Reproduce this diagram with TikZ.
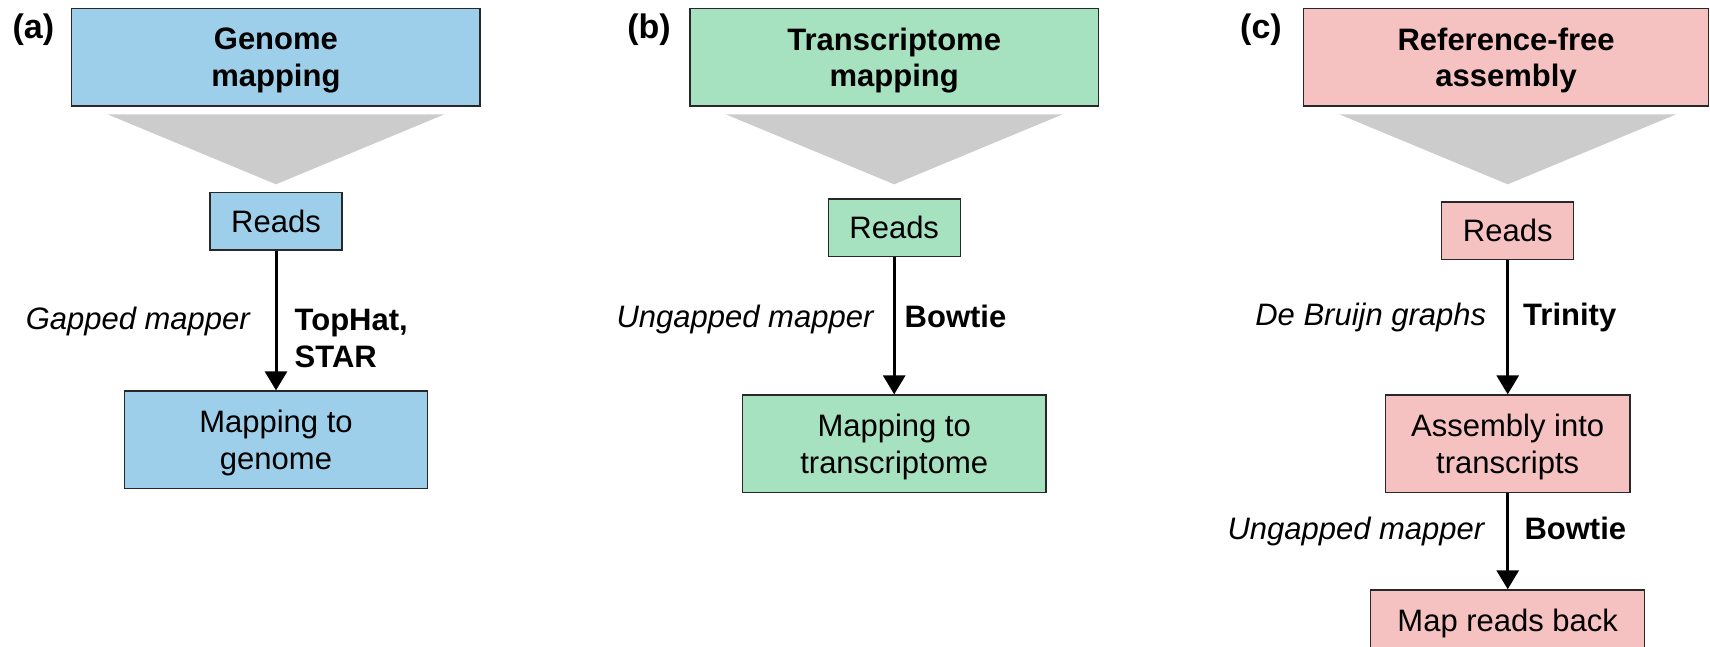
\documentclass[tikz,border=0pt]{standalone}
\usepackage{fontspec}
\setmainfont{Liberation Sans}
\usetikzlibrary{arrows.meta}

\definecolor{genomeblue}{RGB}{158,207,234}
\definecolor{transgreen}{RGB}{166,225,192}
\definecolor{assemblypink}{RGB}{246,193,193}
\definecolor{funnelgray}{RGB}{204,204,204}
\definecolor{edgecol}{RGB}{40,40,40}

\newcommand\txtfont{\fontsize{31}{36.7}\selectfont}
\newcommand\panelfont{\fontsize{34}{40}\selectfont}

\tikzset{
  box/.style={draw=edgecol, line width=1.4pt, inner sep=0pt, align=center, font=\txtfont},
  titlebox/.style={box, font=\txtfont\bfseries, minimum width=408.4pt, minimum height=97.7pt},
  readsbox/.style={box, minimum width=132pt, minimum height=57.7pt},
  flow/.style={line width=3pt, -{Triangle[width=22pt,length=19pt]}},
  method/.style={inner sep=0pt, font=\txtfont\itshape},
  tool/.style={inner sep=0pt, font=\txtfont\bfseries, align=left},
  panel/.style={inner sep=0pt, font=\panelfont\bfseries},
  funnel/.style={fill=funnelgray},
}

\begin{document}
\begin{tikzpicture}[x=1pt, y=-1pt]
\useasboundingbox (0,0) rectangle (1710,646);

% ---------- (a) genome mapping ----------
\node[panel] (pa) at (33.4,30) {(a)};
\node[titlebox, fill=genomeblue] (ta) at (275.9,57.2) {Genome\\\smash{mapping}};
\fill[funnel] (107.5,114.3) -- (444.5,114.3) -- (276,184.3) -- cycle;
\node[readsbox, fill=genomeblue] (ra) at (276,221.2) {Reads};
\node[box, fill=genomeblue, minimum width=303pt, minimum height=97.3pt] (ma) at (276,439.7) {Mapping to\\\smash{genome}};
\draw[flow] (ra.south) -- (ra.south |- ma.north);
\node[method, anchor=base east] (ga) at (250,329.3) {Gapped mapper};
\node[tool, anchor=north west] (sa) at (294.5,309.1) {TopHat,\\STAR};

% ---------- (b) transcriptome mapping ----------
\node[panel] (pb) at (649,30) {(b)};
\node[titlebox, fill=transgreen] (tb) at (894.2,57.2) {Transcriptome\\\smash{mapping}};
\fill[funnel] (725.7,114.3) -- (1062.7,114.3) -- (894.2,184.3) -- cycle;
\node[readsbox, fill=transgreen] (rb) at (894.2,227.8) {Reads};
\node[box, fill=transgreen, minimum width=303.6pt, minimum height=97.7pt] (mb) at (894.2,443.9) {Mapping to\\\smash{transcriptome}};
\draw[flow] (rb.south) -- (rb.south |- mb.north);
\node[method, anchor=base east] (gb) at (873.6,327) {Ungapped mapper};
\node[tool, anchor=base west] (sb) at (904.5,327) {Bowtie};

% ---------- (c) reference-free assembly ----------
\node[panel] (pc) at (1261,30) {(c)};
\node[titlebox, fill=assemblypink, minimum width=405pt] (tc) at (1506.1,57.2) {Reference-free\\\smash{assembly}};
\fill[funnel] (1339.2,114.3) -- (1676.2,114.3) -- (1507.7,184.3) -- cycle;
\node[readsbox, fill=assemblypink] (rc) at (1507.7,230.8) {Reads};
\node[box, fill=assemblypink, minimum width=244.3pt, minimum height=97.7pt] (ac) at (1507.7,443.9) {Assembly into\\\smash{transcripts}};
\node[box, fill=assemblypink, minimum width=274pt, minimum height=67.4pt] (bc) at (1507.7,623.7) {Map reads back};
\draw[flow] (rc.south) -- (rc.south |- ac.north);
\draw[flow] (ac.south) -- (ac.south |- bc.north);
\node[method, anchor=base east] (gc) at (1486.4,325) {De Bruijn graphs};
\node[tool, anchor=base west] (sc) at (1523,325) {Trinity};
\node[method, anchor=base east] (uc) at (1484.5,539) {Ungapped mapper};
\node[tool, anchor=base west] (wc) at (1524.3,539) {Bowtie};
\end{tikzpicture}
\end{document}
